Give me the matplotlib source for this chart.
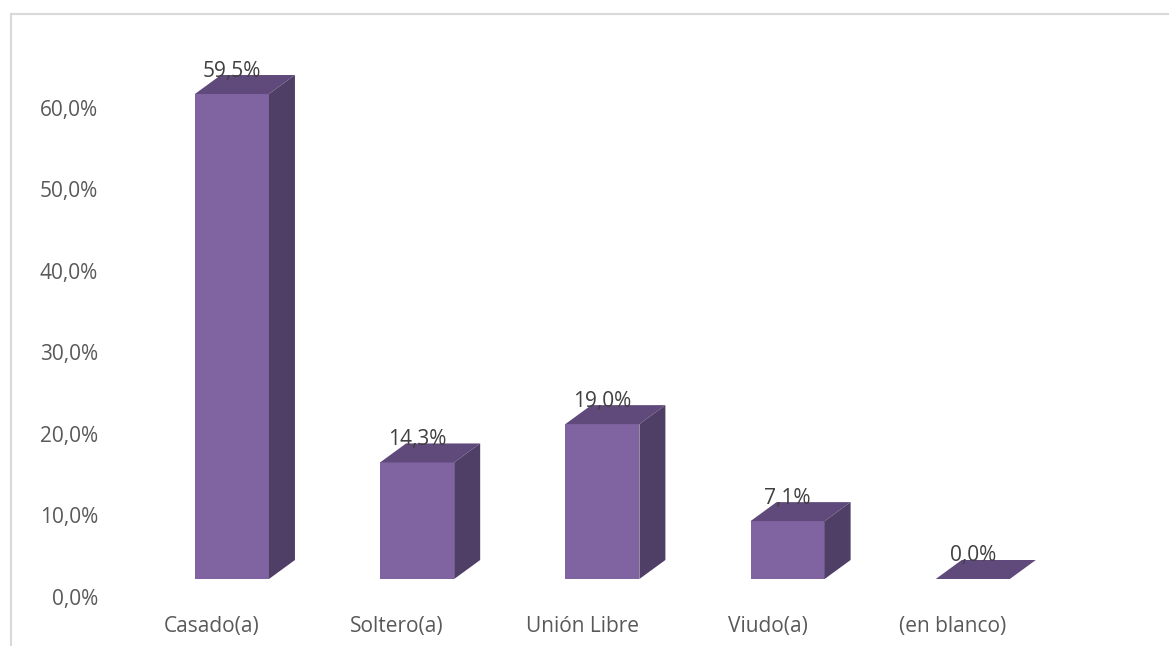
import matplotlib
matplotlib.use("Agg")
import matplotlib.pyplot as plt
from matplotlib.patches import Polygon
from matplotlib.transforms import ScaledTranslation
from matplotlib.lines import Line2D

categories = ["Casado(a)", "Soltero(a)", "Unión Libre", "Viudo(a)", "(en blanco)"]
values = [59.5, 14.3, 19.0, 7.1, 0.0]
yticks = [0, 10, 20, 30, 40, 50, 60]

FRONT = "#8064A2"
TOP = "#604A7B"
SIDE = "#4F3F66"
TXT = "#595959"

plt.rcParams['font.family'] = ['Open Sans', 'DejaVu Sans']

W, H, DPI = 1169, 646, 100
fig = plt.figure(figsize=(W / DPI, H / DPI), dpi=DPI)

# axes placement in pixels
left_px, right_px = 93.0, 1111.7
bottom_px, top_px = 579.0, 49.2
ax = fig.add_axes([left_px / W, (H - bottom_px) / H,
                   (right_px - left_px) / W, (bottom_px - top_px) / H])
xlo, xhi = -0.75, 4.75
ylo, yhi = 0, 65
ax.set_xlim(xlo, xhi)
ax.set_ylim(ylo, yhi)

x = list(range(len(categories)))
bw = 0.4
ax.bar(x, values, width=bw, color=FRONT, edgecolor="none", zorder=3)

# 3D depth offsets (px -> data units)
dx = 26 / ((right_px - left_px) / (xhi - xlo))
dy = 19 / ((bottom_px - top_px) / (yhi - ylo))
for xi, v in zip(x, values):
    l, r = xi - bw / 2, xi + bw / 2
    top = Polygon([(l, v), (r, v), (r + dx, v + dy), (l + dx, v + dy)],
                  closed=True, facecolor=TOP, edgecolor="none", zorder=3)
    ax.add_patch(top)
    if v > 0:
        side = Polygon([(r, 0), (r + dx, dy), (r + dx, v + dy), (r, v)],
                       closed=True, facecolor=SIDE, edgecolor="none", zorder=3)
        ax.add_patch(side)
    ax.text(xi, v, f"{v:.1f}%".replace(".", ","), ha="center", va="center",
            fontsize=15, color="#404040", zorder=4,
            transform=ax.transData + ScaledTranslation(0, 23 / DPI, fig.dpi_scale_trans))

for s in ax.spines.values():
    s.set_visible(False)

ax.set_yticks(yticks)
ax.set_yticklabels([f"{t:.1f}%".replace(".", ",") for t in yticks])
ax.set_xticks(x)
ax.set_xticklabels(categories)
ax.tick_params(axis="both", length=0, pad=0, labelsize=15, labelcolor=TXT)

yoff = ScaledTranslation(5 / DPI, -18 / DPI, fig.dpi_scale_trans)
for lab in ax.get_yticklabels():
    lab.set_transform(lab.get_transform() + yoff)
xoff = ScaledTranslation(-20 / DPI, -37 / DPI, fig.dpi_scale_trans)
for lab in ax.get_xticklabels():
    lab.set_transform(lab.get_transform() + xoff)

# chart area border (top and left visible)
fig.add_artist(Line2D([11 / W, 1.0], [(H - 14) / H, (H - 14) / H],
                      transform=fig.transFigure, color="#d9d9d9", lw=1.5))
fig.add_artist(Line2D([11 / W, 11 / W], [0, (H - 14) / H],
                      transform=fig.transFigure, color="#d9d9d9", lw=1.5))

fig.savefig("out.png", dpi=DPI)
